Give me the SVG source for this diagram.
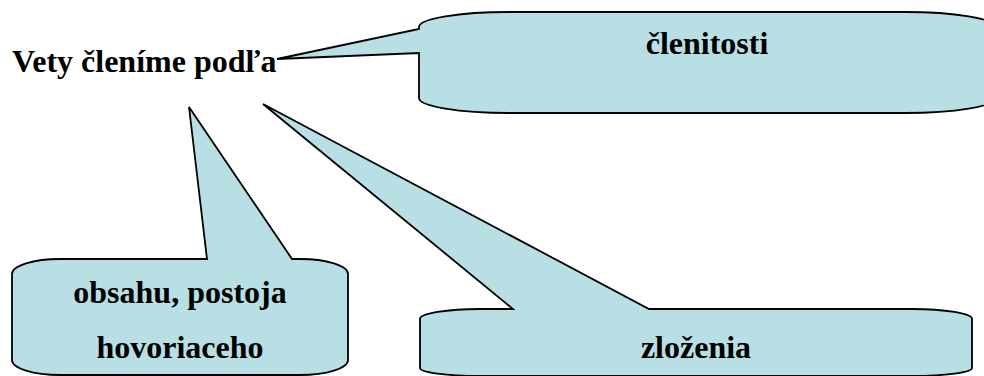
<svg xmlns="http://www.w3.org/2000/svg" width="984" height="376" viewBox="0 0 984 376">
  <style>
    .callout { fill: #B8DFE3; stroke: #000; stroke-width: 1.8; stroke-linejoin: miter; }
    .label { font-family: 'Liberation Serif', 'Times New Roman', 'DejaVu Serif', serif; font-weight: 700; font-size: 32px; fill: #000; }
    .mid { text-anchor: middle; }
  </style>
  <rect width="984" height="376" fill="#fff"/>
  <g id="callout-clenitosti">
    <path class="callout" d="M 509,12 H 905 A 90 15 0 0 1 995 27 V 98 A 90 15 0 0 1 905 113 H 509 A 90 15 0 0 1 419 98 V 53 L 277 59 L 419 29 V 27 A 90 15 0 0 1 509 12 Z"/>
    <text class="label mid" x="707" y="54" font-family="Liberation Serif, serif">členitosti</text>
  </g>
  <g id="callout-obsahu">
    <path class="callout" d="M 60,259 H 207 L 189 107 L 292 259 H 300 A 48 15 0 0 1 348 274 V 360 A 48 15 0 0 1 300 375 H 60 A 48 15 0 0 1 12 360 V 274 A 48 15 0 0 1 60 259 Z"/>
    <text class="label mid" x="180" y="303">obsahu, postoja</text>
    <text class="label mid" x="180" y="358">hovoriaceho</text>
  </g>
  <g id="callout-zlozenia">
    <path class="callout" d="M 480,309 H 513 L 263 104 L 649 309 H 912 A 60 10 0 0 1 972 319 V 368 A 60 8 0 0 1 912 376 H 480 A 60 8 0 0 1 420 368 V 319 A 60 10 0 0 1 480 309 Z"/>
    <text class="label mid" x="696" y="358">zloženia</text>
  </g>
  <g id="heading">
    <text class="label" x="12" y="72">Vety členíme podľa</text>
  </g>
  <g id="connectors"></g>
</svg>
